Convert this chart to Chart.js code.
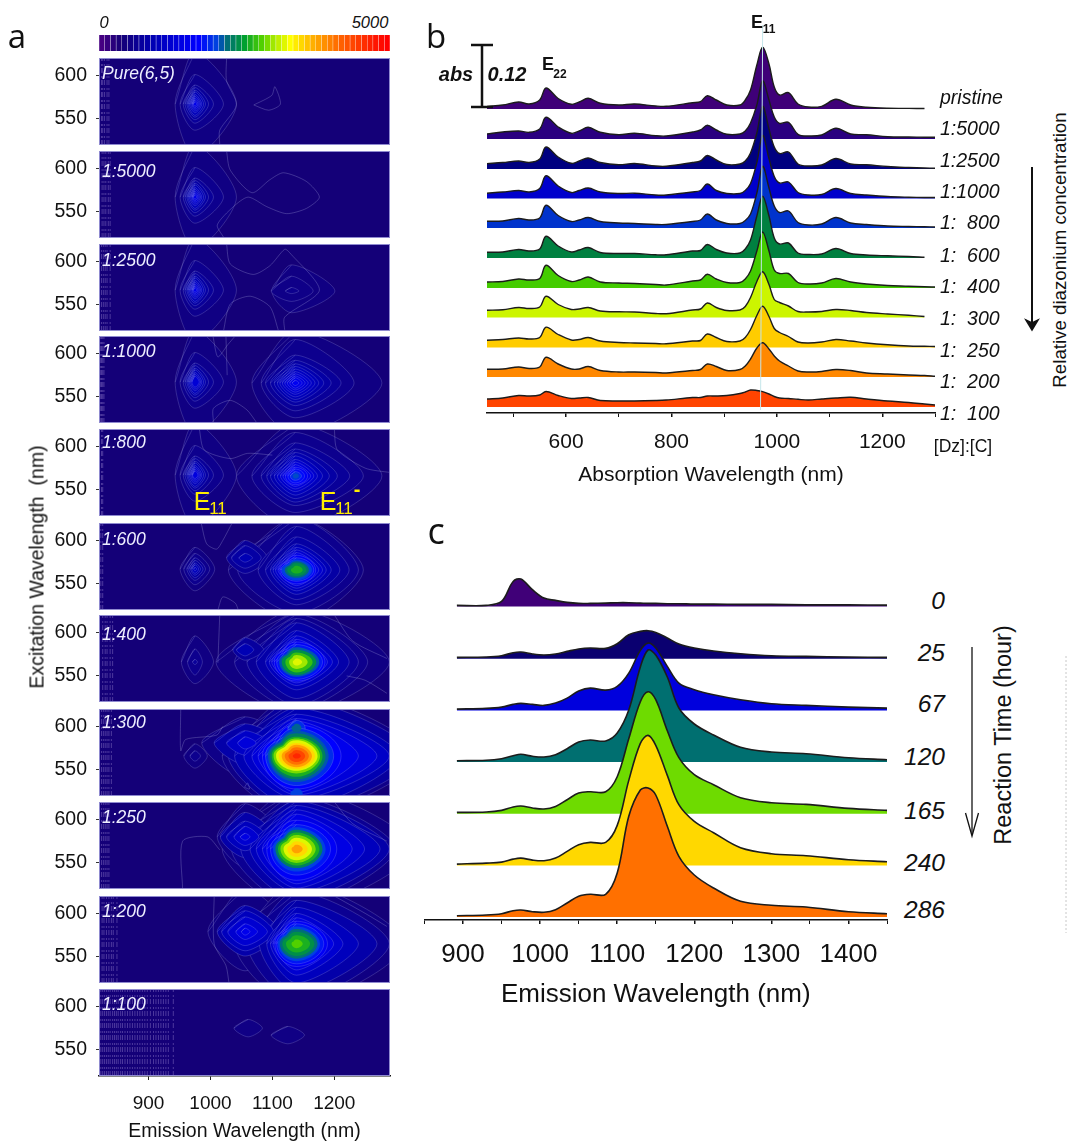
<!DOCTYPE html>
<html>
<head>
<meta charset="utf-8">
<title>Diazonium reaction spectra</title>
<script src="https://cdn.jsdelivr.net/npm/chart.js@4/dist/chart.umd.min.js"></script>
<style>
body { margin: 0; background: #fff; }
#page { position: relative; width: 1070px; height: 1142px; overflow: hidden; font-family: "Liberation Sans", Arial, sans-serif; color: #111; }
canvas { position: absolute; }
.txt { position: absolute; transform: translate(-50%, -50%); white-space: pre; line-height: 1; }
svg { position: absolute; left: 0; top: 0; }
</style>
</head>
<body>
<div id="page"></div>
<script>
/* Colour scale */
const colorbarLevels = [0,100,200,300,400,500,600,700,800,900,1000,1100,1200,1300,1400,1500,1600,1700,1800,1900,2000,2100,2200,2300,2400,2500,2600,2700,2800,2900,3000,3100,3200,3300,3400,3500,3600,3700,3800,3900,4000,4100,4200,4300,4400,4500,4600,4700,4800,4900,5000];
const cmapLevels = [0,350,900,1700,2000,2200,2500,2800,3000,3300,3700,4200,4700,5000];
const cmapColors = [[70,0,130],[20,0,120],[0,0,180],[0,0,255],[0,64,224],[0,110,120],[0,160,48],[80,208,0],[160,232,0],[255,255,0],[255,176,0],[255,96,0],[255,32,0],[255,0,0]];

/* Panel a: excitation-emission maps. Contour rows are [level, left, right, up, down] in nm around a peak */
const panelNames = ['Pure(6,5)','1:5000','1:2500','1:1000','1:800','1:600','1:400','1:300','1:250','1:200','1:100'];
const panelTops = [58,151,243.5,336,429,523,615,709,802,896,989];
const panelLabelY = [73,171,260,351,442,539,634,722,817,911,1004];
const emissionTicks = [900,1000,1100,1200];
const excitationTicks = [550,600];

const e11Rows = [[450,32,67,60,60],[550,24,46,34,30],[650,19,30,22,22],[750,16,22,19,18],[850,13,17,16,15],[950,11,14,14,13],[1050,9,11,11,10],[1150,7,9,9,8],[1250,5,7,7,6],[1350,4,5,5,4],[1450,2.5,3,3,2.5]];
const small2500 = [[450,32,70,30,25],[500,33,35,17,12],[550,10,12,4,3]];
const trion1000 = [[450,70,140,60,60],[550,55,95,50,40],[650,48,74,32,32],[750,40,58,26,26],[850,34,46,22,22],[950,29,38,19,19],[1050,25,32,16,16],[1150,21,26,13,13],[1250,17,21,10.5,10.5],[1350,13,16,8,8],[1450,9,11,6,6],[1550,5,6,3,3]];
const trion800 = [[450,95,140,60,60],[550,70,110,50,42],[650,55,88,38,34],[750,46,68,31,30],[850,40,55,27,26],[1000,34,44,23,22],[1150,29,36,19,18],[1300,24,30,16,15],[1450,20,25,13,12],[1600,16,20,10,10],[1750,12,15,8,8],[1900,8,10,5,5],[2050,4,6,3,3]];
const trion600 = [[450,110,108,60,60],[550,95,100,60,50],[650,62,85,50,40],[750,50,70,38,34],[900,42,56,30,28],[1050,38,48,26,24],[1200,34,42,23,21],[1400,30,36,20,18],[1600,27,31,17,16],[1800,25,28,14,13],[2000,24,25,12,12],[2200,19,20,10,9],[2400,15,16,8,7],[2600,9,10,5,4]];
const side600 = [[650,30,36,20,18],[750,22,26,14,12],[900,10,12,5,5]];
const e11at600 = [[450,24,32,25,25],[550,18,24,18,18],[650,13,17,13,13],[750,10,13,10,10],[850,7,9,7,7],[950,5,6,5,5],[1050,2,3,2,2]];
const trion400 = [[450,130,150,60,60],[550,100,115,55,55],[650,80,100,50,50],[800,65,85,45,42],[1000,50,68,36,32],[1200,44,58,30,27],[1400,40,50,26,24],[1600,36,46,23,22],[1800,32,42,20,20],[2100,28,37,17,17],[2400,24,32,14,15],[2700,18,26,11,12],[3000,12,18,8,8],[3200,6,9,4,4]];
const side400 = [[700,20,30,14,12],[900,14,14,7,7]];
const e11at400 = [[450,22,30,30,25],[550,12,12,15,15],[650,4,4,3,3]];
const trion300 = [[500,120,200,70,70],[700,110,190,65,65],[900,100,165,55,60],[1100,85,150,48,50],[1300,72,130,43,45],[1500,62,100,40,42],[1700,55,72,36,38],[1900,50,60,32,34],[2100,46,52,29,30],[2300,43,47,26,27],[2600,40,42,22,24],[2900,37,38,20,20],[3200,33,34,18,17],[3500,29,30,15,15],[3800,24,25,13,13],[4100,19,20,10,10],[4400,13,14,7,7],[4650,6,7,3,3]];
const side300 = [[500,70,70,30,40],[800,50,60,22,25],[1100,30,40,14,14],[1300,12,18,7,7]];
const lobeTop300 = [[1900,14,14,9,9],[2150,8,8,5,5]];
const lobeLow300 = [[1900,14,14,7,7]];
const lobeEdge300 = [[2000,10,10,6,6]];
const e11at300 = [[450,18,20,14,14],[550,8,9,6,6]];
const trion250 = [[450,120,190,70,70],[600,105,160,60,65],[800,90,150,55,58],[1000,75,135,50,50],[1200,65,110,45,45],[1400,55,90,40,40],[1600,48,65,33,36],[1800,42,55,28,30],[2000,38,47,25,26],[2300,34,42,22,22],[2600,30,37,19,19],[2900,26,31,16,16],[3200,21,25,13,13],[3500,15,18,9,9],[3800,8,10,5,5]];
const side250 = [[500,45,60,38,35],[800,40,48,28,24],[1000,30,35,18,16],[1200,18,22,12,10],[1400,8,8,4,4]];
const trion200 = [[450,100,175,70,70],[600,80,150,60,65],[800,60,130,50,55],[1000,48,100,42,45],[1200,42,75,35,36],[1400,38,60,30,30],[1600,35,50,26,26],[1800,32,44,23,23],[2000,30,38,20,20],[2200,27,34,17,17],[2400,23,29,14,14],[2600,17,22,10,10],[2800,8,10,5,5]];
const side200 = [[450,60,70,50,45],[800,45,55,30,28],[1000,38,46,24,22],[1200,28,36,17,16],[1400,15,20,9,9],[1500,6,8,4,4]];
const lobeLeft100 = [[470,23,23,10,10]];
const lobeRight100 = [[470,27,27,10,10]];

const panelPeaks = [
	[{x:975,y:567,rows:e11Rows}],
	[{x:975,y:567,rows:e11Rows}],
	[{x:975,y:567,rows:e11Rows},{x:1131,y:566,rows:small2500}],
	[{x:975,y:567,rows:e11Rows.slice(0,9)},{x:1137,y:566,rows:trion1000}],
	[{x:975,y:567,rows:e11Rows.slice(0,10)},{x:1137,y:566,rows:trion800}],
	[{x:975,y:567,rows:e11at600},{x:1139,y:566,rows:trion600},{x:1056,y:580,rows:side600}],
	[{x:975,y:566,rows:e11at400},{x:1139,y:566,rows:trion400},{x:1056,y:580,rows:side400}],
	[{x:975,y:566,rows:e11at300},{x:1139,y:566,rows:trion300},{x:1056,y:581,rows:side300},{x:1139,y:598,rows:lobeTop300},{x:1139,y:543,rows:lobeLow300},{x:1139,y:523,rows:lobeEdge300}],
	[{x:1139,y:566,rows:trion250},{x:1056,y:580,rows:side250}],
	[{x:1139,y:565,rows:trion200},{x:1056,y:579,rows:side200}],
	[{x:1061,y:575,rows:lobeLeft100},{x:1125,y:567,rows:lobeRight100}]
];

// faint low contours as [x,y,x,y,...]
const panelFaint = [
	[[1026,620,1026,594,1042,566,1015,537,1015,521],[1070,566,1099,577,1104,587,1113,567,1094,560,1070,566]],
	[[1026,620,1032,598,1067,572,1096,587,1118,595,1155,585,1176,567,1155,554,1123,548,1091,556,1061,567,1037,556,1011,535,1021,521]],
	[[1026,620,1032,597,1069,585,1096,595,1120,614,1128,610,1176,567,1120,536,1120,520],[1021,520,1032,551,1064,560,1096,548,1110,520]],
	[[1005,520,1005,537,1032,546,1059,535,1075,520],[1025,620,1027,575],[1004,620,1012,596,1028,610,1040,620]],
	[[982,620,990,596,1032,586,1060,592,1100,590],[1200,620,1205,596,1250,575,1290,570]],
	[[1012,520,1020,535,1040,528,1045,520],[985,620,994,596,1010,590,1020,600,1035,620]],
	[[1015,620,1012,565],[1285,530,1250,545,1220,550],[1200,620,1230,590,1285,570]],
	[[952,620,952,572,960,585,1010,590,1020,600],[1055,530,1060,535,1063,528,1055,530]],
	[[955,520,955,575,995,580,1015,565],[1200,620,1230,595,1285,575]],
	[[1006,620,1006,565,1025,540,1030,520],[1200,620,1250,600,1285,585]],
	[]
];

// noise streaks at the short wavelength edge
const panelStreaks = [
	[824,826,829,833,836],[825,828,831,835,838],[824,827,830,833,838],[822,824,826,828],[824,826],[823,826],[826,830,833,838,842],[824,827,830,833,836,840],[824,827,830,833,836],[825,828,832,836,840,843,849],
	[823,826,829,832,835,838,842,845,848,851,855,858,862,866,870,874,878,882,886,890,894,898,903,908,912,916,920,924,928,932,940]
];

/* Panel b: absorption, heights above each row's baseline (62 units = 0.12 abs) */
const absWavelength = [450,480,510,530,550,562,585,610,625,642,665,700,730,770,790,840,855,868,885,905,930,940,950,962,973,985,995,1005,1022,1040,1060,1085,1112,1140,1170,1210,1250,1280,1300];
const absTicks = [500,600,700,800,900,1000,1100,1200,1300];
const absMajor = [600,800,1000,1200];
const absLabels = ['pristine','1:5000','1:2500','1:1000','1:  800','1:  600','1:  400','1:  300','1:  250','1:  200','1:  100'];
const absLabelY = [97,128,160,191,222,255,286,318,350,381,413];
const absBaselines = [304,274,244,214.5,185,155,125,95.5,65.5,36,6];
const absColors = ['#3f0078','#2a0080','#000080','#0000cc','#0033cc','#008040','#44cc00','#ccf500','#ffcc00','#ff8800','#ff4400'];
const absPristine = [2.5,4,7,5,9,21,10.5,4.7,7,10.7,5.7,4,5,3,2.7,6.3,7.3,13.3,9,4,4,9,19,44,61.7,45,22,14,16.3,5,2,2.7,9.7,4,1.7,0.7,0.6,0.5];
const abs5000 = [5,7,8,6.7,10,21.7,12,5.7,8,11.7,6.7,4.3,5.7,3.3,3,7,9,13.7,9,4.7,5,8,16,34,58,39,22,15.7,16.7,4.7,3,4,10.7,5,4.3,2.3,2,1.8,1.7];
const abs2500 = [5.3,6.5,8,6.5,10,22,12,5.7,8,11,6.5,4.3,5.5,3,2.8,6.5,8,13.5,9,4.5,5,8,16,36,62.7,40,22,15.5,17,5,3,4,10.5,5,4.3,2.5,1.5,1,0.8];
const abs1000 = [5.3,6.5,8,6.5,10,22.7,12.5,6,8,10.5,6.5,5,5.3,3.5,3.5,6.5,8,14.5,8,5,5,8,15,36,63,40,22,15.5,16.5,6,3.5,4,10,5,3.5,2,1.3,1,1];
const abs800 = [6.7,7,9.5,8,10,22.7,12.5,6.5,8,10.5,6.5,5,4.5,3.5,3.5,6.5,8,14,8,4.5,4.5,7.5,14,35,61.7,40,22,15.5,17,5.5,3,4,10.5,5,3.5,2,1.5,1.2,1];
const abs600 = [5.7,6,8.5,7,9,21.7,12,6,8,10.5,5.5,4.5,4.5,3.2,3.2,7,7.5,13.5,8.5,5,5,9,18,42,61.7,42,20,14,15,5,3.5,4,9.5,4.5,3,2.2,1.5,0.7];
const abs400 = [6,6.5,9,8,9.5,22.7,12.5,6.5,8,11,6,5,4.5,3.5,3,7,8,13.7,9,5.5,5.5,9,17,37,56,37,18,14.5,14.5,5.5,4,5,9.5,6,4,2.5,1.8,1.2,1];
const abs300 = [7.3,7.7,10,9,10.5,21.3,13,8,8.5,10,6.5,5.7,5.5,4,3.8,7.5,8.5,14.5,10,7,7.5,11,20,36,45.7,33,18,15,11.5,6,5.5,6,8,7,5,3.5,2.2,1];
const abs250 = [7.3,8,9.5,8.5,10,20.3,13,7.5,8,10,6.5,5,4.5,4,3.7,6.5,7,13.5,10,6,6.5,10,18,32,41.3,31,19,15,11,5.5,4.5,5.5,8,6.5,4.5,2.7,1.5,1.2,1];
const abs200 = [7.7,8,10,8.5,10,19.7,13,8,8,10.5,6.5,5,5,4.5,4,6.5,7.5,13,10.5,6.5,7.5,11,18,29,34.3,28,21,16,11,6,5,5.5,7.5,6.5,4,3,2,1.5,0.7];
const abs100 = [8,9,11.5,11,12,15.5,11.5,8.5,9,9.5,6.5,6,6,6.5,7,9.5,9.5,11,11,11.5,13.5,15,17,16.5,15.3,13,10.5,9,8.5,7.7,7,8,9,9.7,8,6,4.5,3,2];
const absSeries = [absPristine,abs5000,abs2500,abs1000,abs800,abs600,abs400,abs300,abs250,abs200,abs100];

/* Panel c: emission vs reaction time, heights above each row's baseline */
const emWavelength = [892,930,950,965,975,990,1005,1020,1035,1050,1065,1085,1100,1115,1130,1140,1150,1165,1180,1200,1225,1260,1300,1345,1400,1450];
const emTicks = [850,900,950,1000,1050,1100,1150,1200,1250,1300,1350,1400,1450];
const emMajor = [900,1000,1100,1200,1300,1400];
const emLabels = ['0','25','67','120','165','240','286'];
const emLabelY = [601,653,704,757,811,863,909.5];
const emBaselines = [313.6,261.3,209.6,158,106.3,54.6,3];
const emColors = ['#400078','#0a0070','#0000dd','#006f70','#6edb00','#ffd800','#ff7000'];
const em0 = [1,1,5,25,27.3,16.7,8.3,6,4,3,3,3.3,3.7,3.7,3.3,3,3,2.7,2.7,2.3,2.3,2,2,1.5,1.5,1.3];
const em25 = [1.3,1.7,3,6,6.7,4.7,3.7,4.7,7.3,9.7,10.7,10.3,15,24,27.3,28,26.3,20.7,14.7,10.7,7.7,5,3,2.3,1.7,1.3];
const em67 = [1.3,2,3.3,6,7,6,5,7.3,12.3,19.3,22.3,20.3,24,37.3,60,67.3,62.3,44,27.3,20.7,15.7,10.7,6.7,5,3.3,2.3];
const em120 = [1.3,1.7,3.3,6.3,7.7,5.7,5,7.3,13.3,20,22,21,29,52,95,112,107,85,54,38,27,14.7,10,8.3,4.3,2.3];
const em165 = [1.3,1.7,3.3,6.7,7.7,5.7,4.7,7.3,14,20.7,22,22,37,75,112,122,114,83,56,39,29,16,11,9.3,5.3,3.3];
const em240 = [1.3,2.3,3.3,6.3,7.3,5.3,4.7,7.3,14,20.7,23,23,40,85,122,130,120,90,60.7,44,32.7,17.7,11.7,9.7,5.7,3.7];
const em286 = [1.3,2,3.3,6.3,7,5.3,4.7,7.3,14,20.7,22.7,22.7,44,100.7,127,129,122,90.7,60.7,42,29,15.7,11.7,10,5.3,3.3];
const emSeries = [em0,em25,em67,em120,em165,em240,em286];

const page = document.getElementById('page');
const sans = '"Liberation Sans", Arial, sans-serif';

function addCanvas(left, top, width, height) {
	const c = document.createElement('canvas');
	c.width = width;
	c.height = height;
	c.style.left = left + 'px';
	c.style.top = top + 'px';
	c.style.width = width + 'px';
	c.style.height = height + 'px';
	page.appendChild(c);
	return c;
}

function addText(html, x, y, font, color, rotate) {
	const d = document.createElement('div');
	d.className = 'txt';
	d.innerHTML = html;
	d.style.left = x + 'px';
	d.style.top = y + 'px';
	d.style.font = font;
	if (color) d.style.color = color;
	if (rotate) d.style.transform = 'translate(-50%, -50%) rotate(' + rotate + 'deg)';
	page.appendChild(d);
	return d;
}

// colour for a contour level, between the stops
function levelColor(level) {
	let i = 0;
	while (i < cmapLevels.length - 2 && level > cmapLevels[i + 1]) i++;
	const t = Math.min(1, (level - cmapLevels[i]) / (cmapLevels[i + 1] - cmapLevels[i]));
	const a = cmapColors[i], b = cmapColors[i + 1];
	return `rgb(${Math.round(a[0] + (b[0] - a[0]) * t)},${Math.round(a[1] + (b[1] - a[1]) * t)},${Math.round(a[2] + (b[2] - a[2]) * t)})`;
}

const baseOptions = {
	responsive: false,
	animation: false,
	events: [],
	plugins: { legend: { display: false }, tooltip: { enabled: false } }
};

/* Colour bar */
new Chart(addCanvas(99, 35, 291, 16), {
	type: 'bar',
	data: {
		labels: colorbarLevels,
		datasets: [{
			data: colorbarLevels.map(() => 1),
			backgroundColor: colorbarLevels.map(levelColor),
			barPercentage: 1,
			categoryPercentage: 0.93
		}]
	},
	options: {
		...baseOptions,
		scales: {
			x: { display: false },
			y: { display: false, min: 0, max: 1 }
		}
	}
});

// background and frame of one map
const mapFrame = {
	id: 'mapFrame',
	beforeDatasetsDraw(chart) {
		const a = chart.chartArea;
		chart.ctx.fillStyle = 'rgb(20,0,120)';
		chart.ctx.fillRect(a.left, a.top, a.width, a.height);
	},
	afterDatasetsDraw(chart) {
		const a = chart.chartArea;
		chart.ctx.strokeStyle = '#8f8ad0';
		chart.ctx.lineWidth = 1;
		chart.ctx.strokeRect(a.left + 0.5, a.top + 0.5, a.width - 1, a.height - 1);
	}
};

function mapDatasets(i) {
	let rows = [];
	panelPeaks[i].forEach((p) => {
		p.rows.forEach((r) => rows.push({ level: r[0], x: p.x, y: p.y, l: r[1], r: r[2], u: r[3], d: r[4] }));
	});
	// index 0 is drawn last, so the highest level goes first
	rows.sort((a, b) => b.level - a.level);
	const sets = rows.map((c) => {
		const left = {x: c.x - c.l, y: c.y}, top = {x: c.x, y: c.y + c.u};
		return {
			// runs on past the start so the left tip is smooth too
			data: [left, top, {x: c.x + c.r, y: c.y}, {x: c.x, y: c.y - c.d}, left, top],
			showLine: true,
			fill: 'shape',
			tension: c.level < 1600 ? 0.3 : 0.5,
			backgroundColor: levelColor(c.level),
			borderColor: c.level < 2000 ? 'rgba(190,190,240,0.36)' : 'rgba(0,0,0,0)',
			borderWidth: 0.6,
			pointRadius: 0
		};
	});
	panelFaint[i].forEach((line) => {
		const pts = [];
		for (let k = 0; k < line.length; k += 2) pts.push({ x: line[k], y: line[k + 1] });
		sets.unshift({ data: pts, showLine: true, tension: 0.25, borderColor: 'rgba(170,170,225,0.42)', borderWidth: 0.7, pointRadius: 0 });
	});
	panelStreaks[i].forEach((x) => {
		sets.unshift({ data: [{x: x, y: 520}, {x: x, y: 620}], showLine: true, borderColor: 'rgba(170,150,220,0.42)', borderWidth: 0.9, borderDash: [5, 2, 2, 3], pointRadius: 0 });
	});
	return sets;
}

panelNames.forEach((name, i) => {
	const last = i === panelNames.length - 1;
	const pad = 3;
	const canvasH = last ? 87 + pad + 68 : 87 + pad * 2;
	new Chart(addCanvas(0, panelTops[i] - pad, 395, canvasH), {
		type: 'scatter',
		data: { datasets: mapDatasets(i) },
		plugins: [mapFrame],
		options: {
			...baseOptions,
			layout: { padding: { top: pad, bottom: last ? 0 : pad, right: 5, left: 0 } },
			scales: {
				x: {
					type: 'linear',
					display: last,
					min: 820,
					max: 1290,
					afterBuildTicks: (s) => { s.ticks = emissionTicks.map((v) => ({ value: v })); },
					afterFit: (s) => { if (last) s.height = 68; s.paddingLeft = 0; s.paddingRight = 0; },
					grid: { drawOnChartArea: false, tickLength: 4, color: '#222' },
					border: { color: '#111', width: 1.5 },
					ticks: { font: { family: sans, size: 19 }, color: '#111', padding: 12, maxRotation: 0, autoSkip: false, callback: (v) => String(v) },
					title: { display: true, text: 'Emission Wavelength (nm)', font: { family: sans, size: 19.5 }, color: '#111', padding: { top: 4, bottom: 1 } }
				},
				y: {
					min: 520,
					max: 620,
					afterBuildTicks: (s) => { s.ticks = excitationTicks.map((v) => ({ value: v })); },
					afterFit: (s) => { s.width = 99; s.paddingTop = 0; s.paddingBottom = 0; },
					grid: { drawOnChartArea: false, tickLength: 3, color: '#333' },
					border: { display: false },
					ticks: { font: { family: sans, size: 19.5 }, color: '#111', padding: 9 }
				}
			}
		}
	});
	addText(name, 102, panelLabelY[i], 'italic 17.5px ' + sans, '#eeeeff').style.transform = 'translate(0, -50%)';
});

// one filled ridge per row, lower rows painted over upper ones
function ridgeDatasets(xs, series, baselines, colors, lineWidth) {
	return series.map((vals, i) => ({
		data: vals.map((v, k) => ({ x: xs[k], y: baselines[i] + v })),
		fill: { value: baselines[i] },
		backgroundColor: colors[i],
		borderColor: '#1c1c1c',
		borderWidth: lineWidth,
		pointRadius: 0,
		tension: 0.35,
		order: series.length - i
	}));
}

function ridgeAxis(min, max, tickValues, major, fontSize, axisH, tickPad, titleText, titleSize, titlePad) {
	return {
		type: 'linear',
		min: min,
		max: max,
		afterBuildTicks: (s) => { s.ticks = tickValues.map((v) => ({ value: v })); },
		afterFit: (s) => { s.height = axisH; s.paddingLeft = 0; s.paddingRight = 0; },
		grid: { drawOnChartArea: false, tickLength: 4, color: '#111', lineWidth: (c) => (c.tick && major.includes(c.tick.value) ? 1.5 : 1) },
		border: { color: '#111', width: 1.5 },
		ticks: {
			font: { family: sans, size: fontSize },
			color: '#111',
			padding: tickPad,
			maxRotation: 0,
			autoSkip: false,
			callback: (v) => (major.includes(v) ? String(v) : '')
		},
		title: { display: true, text: titleText, font: { family: sans, size: titleSize }, color: '#111', padding: titlePad }
	};
}

/* Panel b chart */
const e11Marker = {
	data: [{x: 973, y: 388}, {x: 969, y: 3}],
	borderColor: '#c5e6ea',
	borderWidth: 1,
	pointRadius: 0,
	order: -1
};
new Chart(addCanvas(420, 0, 530, 490), {
	type: 'line',
	data: { datasets: [...ridgeDatasets(absWavelength, absSeries, absBaselines, absColors, 1.4), e11Marker] },
	options: {
		...baseOptions,
		layout: { padding: { left: 67, right: 15, top: 0, bottom: 0 } },
		scales: {
			x: ridgeAxis(450, 1300, absTicks, absMajor, 21, 77, 13, 'Absorption Wavelength (nm)', 21, { top: 8, bottom: 2 }),
			y: { display: false, min: 0, max: 413 }
		}
	}
});

/* Panel c chart */
new Chart(addCanvas(420, 540, 480, 480), {
	type: 'line',
	data: { datasets: ridgeDatasets(emWavelength, emSeries, emBaselines, emColors, 1.6) },
	options: {
		...baseOptions,
		layout: { padding: { left: 4.5, right: 13, top: 0, bottom: 0 } },
		scales: {
			x: ridgeAxis(850, 1450, emTicks, emMajor, 26, 100, 15, 'Emission Wavelength (nm)', 26, { top: 10, bottom: 10 }),
			y: { display: false, min: 0, max: 380 }
		}
	}
});

/* Text */
const letter = '"Open Sans", sans-serif';
addText('a', 17, 35, '33px ' + letter);
addText('b', 436, 35, '33px ' + letter);
addText('c', 436, 530, '36px ' + letter);
addText('0', 104, 22, 'italic 16.5px ' + sans);
addText('5000', 370, 22, 'italic 16.5px ' + sans);
addText('Excitation Wavelength  (nm)', 37, 567, '19.5px ' + sans, null, -90);
addText('E', 202, 501, '25px ' + sans, '#ffee00');
addText('11', 218, 509, '17px ' + sans, '#ffee00');
addText('E', 328, 501, '25px ' + sans, '#ffee00');
addText('11', 344, 509, '17px ' + sans, '#ffee00');
addText('-', 357, 489, 'bold 20px ' + sans, '#ffee00');

addText('E', 757, 21.5, 'bold 18px ' + sans);
addText('11', 769, 29, 'bold 12px ' + sans);
addText('E', 548, 64, 'bold 18px ' + sans);
addText('22', 560, 74, 'bold 12px ' + sans);
addText('abs', 456, 74, 'bold italic 20px ' + sans);
addText('0.12', 507, 74, 'bold italic 20px ' + sans);
absLabels.forEach((t, i) => {
	addText(t, 940, absLabelY[i], 'italic 19.5px ' + sans).style.transform = 'translate(0, -50%)';
});
addText('[Dz]:[C]', 963, 446, '17.5px ' + sans);
addText('Relative diazonium concentration', 1060, 250, '18.7px ' + sans, null, -90);
emLabels.forEach((t, i) => {
	addText(t, 945, emLabelY[i], 'italic 24.5px ' + sans).style.transform = 'translate(-100%, -50%)';
});
addText('Reaction Time (hour)', 1003, 735, '23.5px ' + sans, null, -90);

/* Scale bar and arrows */
page.insertAdjacentHTML('beforeend', `
<svg width="1070" height="1142" fill="none" stroke="#111">
	<path d="M482 45V107M471 45H493M471 107H493" stroke-width="2.5"/>
	<path d="M1032 167V326" stroke-width="2"/>
	<path d="M1026 320L1032 330L1038 320L1032 323Z" fill="#111" stroke-width="1.5"/>
	<path d="M972 647V835" stroke-width="1.5" stroke="#333"/>
	<path d="M965.5 813L972 836L978.5 813" stroke-width="1.3"/>
	<path d="M1066 656V933" stroke="#c8c8c8" stroke-dasharray="2 2"/>
</svg>`);
</script>
</body>
</html>
